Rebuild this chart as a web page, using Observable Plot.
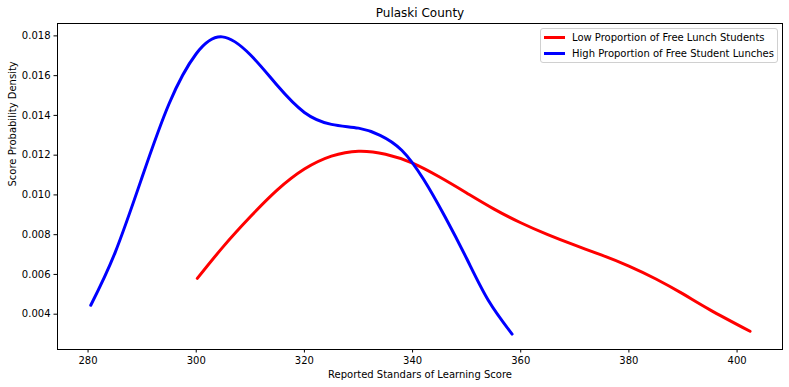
<!DOCTYPE html>
<html>
<head>
<meta charset="utf-8">
<script src="https://cdn.jsdelivr.net/npm/d3@7"></script>
<script src="https://cdn.jsdelivr.net/npm/@observablehq/plot@0.6"></script>
<style>
  html, body { margin: 0; padding: 0; background: #fff; }
  #wrap { position: relative; width: 789px; height: 387px; font-family: "DejaVu Sans", sans-serif; }
  #legend { position: absolute; left: 540px; top: 28px; width: 236px; height: 33px;
    border: 1px solid #d0d0d0; border-radius: 3px; background: rgba(255,255,255,0.8);
    font-size: 10px; color: #000; box-sizing: content-box; }
  .row { position: absolute; left: 3px; height: 14px; display: flex; align-items: center; }
  .sw { width: 21px; height: 3px; margin-right: 7px; }
</style>
</head>
<body>
<div id="wrap"></div>
<script>
const titleText = "Pulaski County";
const xLabel = "Reported Standars of Learning Score";
const yLabel = "Score Probability Density";
const seriesNames = ["Low Proportion of Free Lunch Students", "High Proportion of Free Student Lunches"];
const seriesColors = ["red", "blue"];
const xTicks = [280, 300, 320, 340, 360, 380, 400];
const yTicks = [0.004, 0.006, 0.008, 0.010, 0.012, 0.014, 0.016, 0.018];

// Low proportion (red)
const lowX = [300.2, 305, 310, 315, 320, 325, 330, 335, 340, 345, 350, 355, 360, 365, 370, 375, 380, 385, 390, 395, 402.4];
const lowY = [0.0058, 0.0074, 0.0089, 0.01025, 0.0113, 0.01195, 0.0122, 0.01205, 0.0116, 0.0109, 0.0101, 0.0093, 0.0086, 0.0080, 0.00747, 0.00697, 0.00642, 0.00577, 0.00502, 0.00422, 0.00314];

// High proportion (blue)
const highX = [280.5, 285, 290, 295, 300, 304.8, 310, 315, 320, 325, 330, 334, 338, 342, 346, 350, 354, 358.4];
const highY = [0.00445, 0.0071, 0.0109, 0.0146, 0.0171, 0.01795, 0.01705, 0.0155, 0.01415, 0.01355, 0.01336, 0.0130, 0.01225, 0.0108, 0.0089, 0.0068, 0.0047, 0.0030];

const data = [
  ...lowX.map((x, i) => ({x, y: lowY[i], s: seriesNames[0]})),
  ...highX.map((x, i) => ({x, y: highY[i], s: seriesNames[1]}))
];

const chart = Plot.plot({
  width: 789,
  height: 387,
  marginLeft: 57,
  marginRight: 7,
  marginTop: 23,
  marginBottom: 38,
  style: { fontFamily: "DejaVu Sans, sans-serif", fontSize: "10px", color: "#000", background: "#fff" },
  x: { domain: [274.35, 408.4], ticks: xTicks, tickSize: 3.5, tickPadding: 3.5, label: null },
  y: { domain: [0.002224, 0.018623], ticks: yTicks, tickSize: 3.5, tickPadding: 3.5, tickFormat: d3.format(".3f"), label: null },
  color: { domain: seriesNames, range: seriesColors },
  marks: [
    Plot.line(data, { x: "x", y: "y", z: "s", stroke: "s", strokeWidth: 3, curve: "natural" }),
    Plot.frame({ stroke: "#000", strokeWidth: 1 }),
    Plot.text([titleText], { frameAnchor: "top", dy: -10, lineAnchor: "middle", text: d => d, fontSize: 12 }),
    Plot.text([xLabel], { frameAnchor: "bottom", dy: 25, lineAnchor: "middle", text: d => d, fontSize: 10 }),
    Plot.text([yLabel], { frameAnchor: "left", dx: -45, rotate: -90, lineAnchor: "middle", text: d => d, fontSize: 10 })
  ]
});

const wrap = document.getElementById("wrap");
wrap.appendChild(chart);

const legend = document.createElement("div");
legend.id = "legend";
seriesNames.forEach((name, i) => {
  const row = document.createElement("div");
  row.className = "row";
  row.style.top = (1 + i * 16.5) + "px";
  const sw = document.createElement("span");
  sw.className = "sw";
  sw.style.background = seriesColors[i];
  const t = document.createElement("span");
  t.textContent = name;
  row.appendChild(sw);
  row.appendChild(t);
  legend.appendChild(row);
});
wrap.appendChild(legend);
</script>
</body>
</html>
